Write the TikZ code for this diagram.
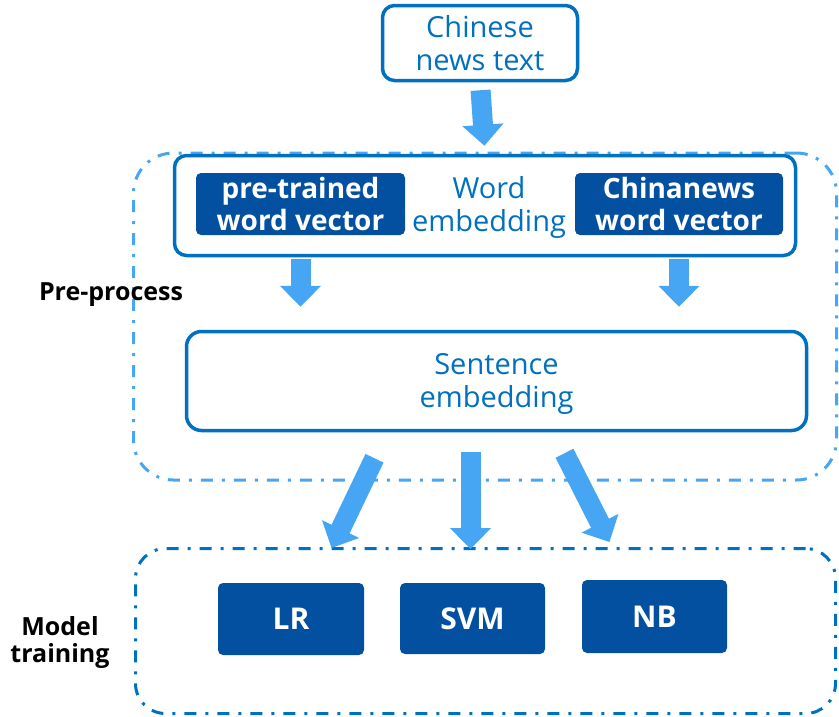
\documentclass[tikz,border=0pt]{standalone}
\usepackage{fontspec}
\setmainfont{Open Sans}
\usepackage{xcolor}
\usetikzlibrary{arrows.meta, calc}
\definecolor{borderblue}{HTML}{0070C0}
\definecolor{lightblue}{HTML}{46A6F4}
\definecolor{darkblue}{HTML}{0450A0}

\tikzset{
whitebox/.style={draw=borderblue, line width=3.5pt, rounded corners=12pt, fill=white, text=borderblue, align=center, font=\fontsize{29}{33}\selectfont},
darkbox/.style={fill=darkblue, rounded corners=5pt, text=white, align=center, font=\fontsize{28}{32}\selectfont\bfseries},
groupbox/.style={line width=3pt, dash pattern=on 12pt off 9pt on 3pt off 9pt, rounded corners=40pt},
fat/.style={lightblue, line width=20pt, -{Triangle[width=40pt,length=21pt]}},
side/.style={font=\fontsize{25}{27}\selectfont\bfseries, align=center}
}

\begin{document}
\begin{tikzpicture}[x=1pt,y=-1pt]
\useasboundingbox (0,0) rectangle (839,716);

% groups
\node[groupbox, draw=lightblue, minimum width=703pt, minimum height=327pt] (prebox) at (485,316.5) {};
\node[groupbox, draw=borderblue, minimum width=700pt, minimum height=165pt, rounded corners=30pt] (trainbox) at (485.5,631) {};
\node[side] (prelabel) at (111,295) {Pre-process};
\node[side] (trainlabel) at (60,642) {Model\\training};

% input and embeddings
\node[whitebox, minimum width=195pt, minimum height=75pt] (news) at (480,43) {Chinese\\news text};
\node[whitebox, minimum width=621pt, minimum height=100pt] (word) at (485,205.5) {};
\node[darkbox, minimum width=209pt, minimum height=62pt] (ptvec) at (300.5,204) {pre-trained\\word vector};
\node[darkbox, minimum width=208pt, minimum height=62pt] (cnvec) at (679,204) {Chinanews\\word vector};
\node[text=borderblue, align=center, font=\fontsize{29}{33}\selectfont] (wordtext) at (489,207) {Word\\embedding};
\node[whitebox, minimum width=620pt, minimum height=99pt, rounded corners=15pt, text depth=2pt] (sent) at (496.5,381) {Sentence\\embedding};

% models
\node[darkbox, minimum width=146pt, minimum height=72pt, font=\fontsize{30}{32}\selectfont\bfseries] (lr) at (291,619) {LR};
\node[darkbox, minimum width=145pt, minimum height=71pt, font=\fontsize{30}{32}\selectfont\bfseries] (svm) at (472.5,618.5) {SVM};
\node[darkbox, minimum width=145pt, minimum height=73pt, font=\fontsize{30}{32}\selectfont\bfseries] (nb) at (654.5,616.5) {NB};

% arrows
\draw[fat, shorten <=8pt, shorten >=8pt] (news.south) -- (word.north);
\draw[fat, shorten <=2pt, shorten >=23pt] (ptvec.south |- word.south) -- (ptvec.south |- sent.north);
\draw[fat, shorten <=2pt, shorten >=23pt] (cnvec.south |- word.south) -- (cnvec.south |- sent.north);
\draw[fat] ($(sent.south)+(-122,26)$) -- ($(trainbox.north)+(-154,1)$);
\draw[fat] ($(sent.south)+(-26,20)$) -- ($(trainbox.north)+(-15,2)$);
\draw[fat] ($(sent.south)+(68,21)$) -- ($(trainbox.north)+(124,-5)$);

\end{tikzpicture}
\end{document}
